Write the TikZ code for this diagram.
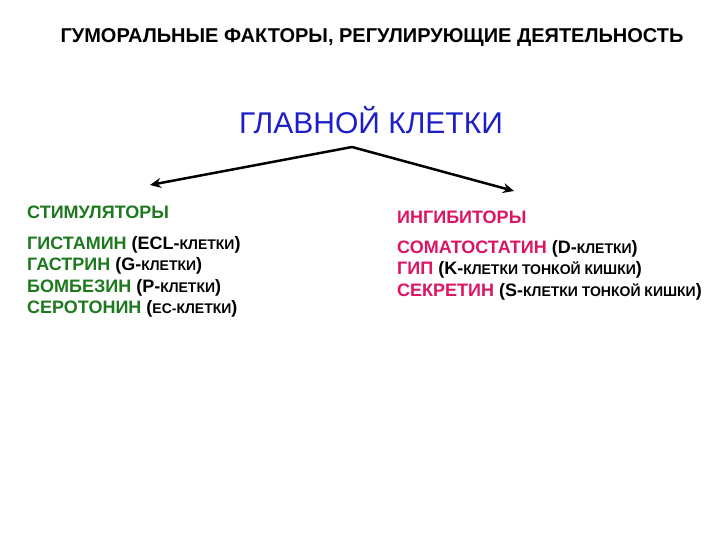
\documentclass[tikz,border=0pt]{standalone}
\usepackage{fontspec}
\usetikzlibrary{arrows.meta}
\setmainfont{Liberation Sans}
\definecolor{grn}{RGB}{30,120,30}
\definecolor{pnk}{RGB}{220,20,100}
\definecolor{blu}{RGB}{30,30,200}
\newcommand{\sm}[1]{{\fontsize{14}{16}\selectfont #1}}
\begin{document}
\begin{tikzpicture}[x=1pt,y=-1pt,
  txt/.style={anchor=west,inner sep=0pt,font=\fontsize{18}{21.5}\selectfont\bfseries,align=left},
  arr/.style={line width=2.5pt,-{Stealth[length=11pt,width=10pt]}}]
\useasboundingbox (0,0) rectangle (720,540);
\node[inner sep=0pt,font=\fontsize{20}{22}\selectfont\bfseries] (t) at (372,38) {ГУМОРАЛЬНЫЕ ФАКТОРЫ, РЕГУЛИРУЮЩИЕ ДЕЯТЕЛЬНОСТЬ};
\node[inner sep=0pt,text=blu,font=\fontsize{30}{32}\selectfont] (g) at (371,120) {ГЛАВНОЙ КЛЕТКИ};
\coordinate (apex) at (352,147);
\coordinate (l) at (150,185);
\coordinate (r) at (514,191);
\draw[arr] (apex) -- (l);
\draw[arr] (apex) -- (r);
\node[txt,text=grn] (s) at (27,212) {СТИМУЛЯТОРЫ};
\node[txt,text=pnk] (i) at (397,217) {ИНГИБИТОРЫ};
\node[txt,anchor=north west] (sl) at (27,236) {\color{grn}ГИСТАМИН \color{black}(ECL-\sm{КЛЕТКИ})\\
\color{grn}ГАСТРИН \color{black}(G-\sm{КЛЕТКИ})\\
\color{grn}БОМБЕЗИН \color{black}(P-\sm{КЛЕТКИ})\\
\color{grn}СЕРОТОНИН \color{black}(\sm{ЕС-КЛЕТКИ})};
\node[txt,anchor=north west] (il) at (397,240) {\color{pnk}СОМАТОСТАТИН \color{black}(D-\sm{КЛЕТКИ})\\
\color{pnk}ГИП \color{black}(K-\sm{КЛЕТКИ ТОНКОЙ КИШКИ})\\
\color{pnk}СЕКРЕТИН \color{black}(S-\sm{КЛЕТКИ ТОНКОЙ КИШКИ})};
\end{tikzpicture}
\end{document}
